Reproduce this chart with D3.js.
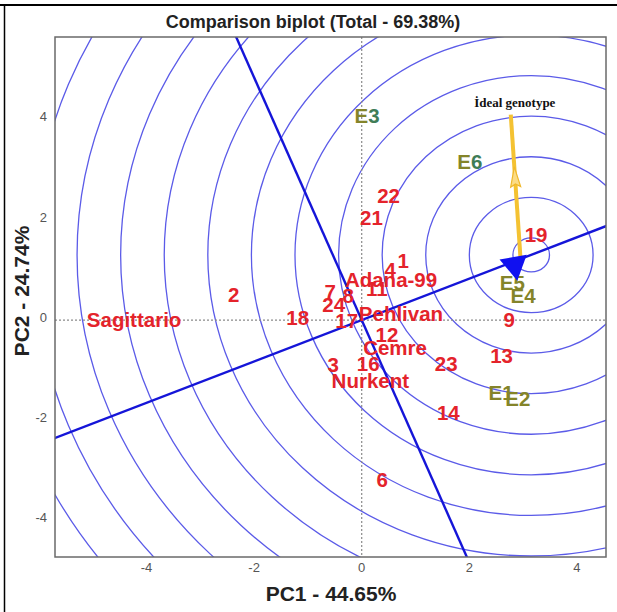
<!DOCTYPE html>
<html><head><meta charset="utf-8">
<script src="https://cdn.jsdelivr.net/npm/d3@7"></script>
<style>
html,body{margin:0;padding:0;background:#fff;}
svg{display:block;}
</style></head>
<body><svg id="c" width="617" height="612"></svg>
<script>
// ---- data ----
const genotypes = ["Sagittario","2","18","7","8","24","17","Pehlivan","Adana-99","11","4","1","12","Cemre","3","16","23","Nurkent","13","14","6","9","19","22","21"];
const genoPC1 =   [-4.23,-2.38,-1.19,-0.585,-0.25,-0.52,-0.28,0.73,0.545,0.28,0.53,0.77,0.47,0.62,-0.53,0.12,1.57,0.16,2.60,1.61,0.38,2.74,3.24,0.50,0.18];
const genoPC2 =   [0.00,0.50,0.04,0.56,0.48,0.31,-0.02,0.13,0.80,0.63,1.01,1.18,-0.29,-0.56,-0.89,-0.87,-0.87,-1.20,-0.71,-1.84,-3.19,0.01,1.70,2.48,2.05];
const envs =   ["E1","E2","E3","E4","E5","E6"];
const envPC1 = [2.59,2.90,0.10,3.00,2.80,2.01];
const envPC2 = [-1.45,-1.57,4.08,0.49,0.75,3.16];
const greenDigitEnvs = ["E3","E6"];
const xTicks = [-4,-2,0,2,4];
const yTicks = [-4,-2,0,2,4];
const xDomain = [-5.70, 4.54];
const yDomain = [-4.73, 5.65];
const idealCenter = [3.15, 1.30];
const circleRadii = [0.34,1.15,1.96,2.77,3.58,4.39,5.20,6.01,6.82,7.63,8.44,9.25,10.06,10.87];
const aecSlope = 0.413;          // average environment coordination axis through origin
const aecMarker = [2.84, 1.10];
const idealArrowFrom = [2.95, 1.25];
const idealArrowTo = [2.77, 4.10];
const titleText = "Comparison biplot (Total - 69.38%)";
const xLabel = "PC1 - 44.65%";
const yLabel = "PC2 - 24.74%";
const idealLabel = "İdeal genotype";

// ---- layout ----
const svg = d3.select("#c");
const L = 55, R = 606, T = 37, B = 557;
const x = d3.scaleLinear().domain(xDomain).range([L, R]);
const y = d3.scaleLinear().domain(yDomain).range([B, T]);
const sans = "'Liberation Sans', Arial, sans-serif";

// outer page borders
svg.append("line").attr("x1",0).attr("x2",617).attr("y1",5).attr("y2",5).attr("stroke","#000").attr("stroke-width",2);
svg.append("line").attr("x1",4.5).attr("x2",4.5).attr("y1",5).attr("y2",612).attr("stroke","#000").attr("stroke-width",1.5);

svg.append("defs").append("clipPath").attr("id","clip")
  .append("rect").attr("x",L).attr("y",T).attr("width",R-L).attr("height",B-T);
const g = svg.append("g").attr("clip-path","url(#clip)");

// concentric circles (data-space circles)
const rxUnit = x(1)-x(0), ryUnit = y(0)-y(1);
g.selectAll("ellipse.ring").data(circleRadii).join("ellipse")
  .attr("class","ring")
  .attr("cx", x(idealCenter[0])).attr("cy", y(idealCenter[1]))
  .attr("rx", d => d*rxUnit).attr("ry", d => d*ryUnit)
  .attr("fill","none").attr("stroke","#5b5be8").attr("stroke-width",1.3);

// zero dotted lines
g.append("line").attr("x1",x(0)).attr("x2",x(0)).attr("y1",T).attr("y2",B)
  .attr("stroke","#8a8a8a").attr("stroke-width",1.2).attr("stroke-dasharray","2,2");
g.append("line").attr("x1",L).attr("x2",R).attr("y1",y(0)).attr("y2",y(0))
  .attr("stroke","#8a8a8a").attr("stroke-width",1.2).attr("stroke-dasharray","2,2");

// AEC abscissa and ordinate
const xa = xDomain[0]-1, xb = xDomain[1]+1;
g.append("line").attr("x1",x(xa)).attr("y1",y(aecSlope*xa)).attr("x2",x(xb)).attr("y2",y(aecSlope*xb))
  .attr("stroke","#1515d8").attr("stroke-width",2.4);
const ps = -1/aecSlope;
const ya = yDomain[0]-1, yb = yDomain[1]+1;
g.append("line").attr("x1",x(ya/ps)).attr("y1",y(ya)).attr("x2",x(yb/ps)).attr("y2",y(yb))
  .attr("stroke","#1515d8").attr("stroke-width",2.4);

// genotype labels
g.selectAll("text.geno").data(genotypes).join("text")
  .attr("class","geno")
  .attr("x",(d,i)=>x(genoPC1[i])).attr("y",(d,i)=>y(genoPC2[i]))
  .attr("dy","0.36em").attr("text-anchor","middle")
  .attr("font-family",sans).attr("font-weight","bold")
  .attr("font-size",20.5).attr("fill","#e4232b")
  .text(d=>d);

// environment labels
const et = g.selectAll("text.env").data(envs).join("text")
  .attr("class","env")
  .attr("x",(d,i)=>x(envPC1[i])).attr("y",(d,i)=>y(envPC2[i]))
  .attr("dy","0.36em").attr("text-anchor","middle")
  .attr("font-family",sans).attr("font-weight","bold")
  .attr("font-size",20.5);
et.append("tspan").attr("fill","#84842a").text(d=>d[0]);
et.append("tspan").attr("fill",d=>greenDigitEnvs.includes(d)?"#3f7d57":"#84842a").text(d=>d.slice(1));

// ideal genotype arrow
const ax1 = x(idealArrowFrom[0]), ay1 = y(idealArrowFrom[1]);
const ax2 = x(idealArrowTo[0]), ay2 = y(idealArrowTo[1]);
g.append("line").attr("x1",ax1).attr("y1",ay1).attr("x2",ax2).attr("y2",ay2)
  .attr("stroke","#f4c232").attr("stroke-width",4);
{
  const mx = ax1 + (ax2-ax1)*0.55, my = ay1 + (ay2-ay1)*0.55;
  const ang = Math.atan2(ay2-ay1, ax2-ax1)*180/Math.PI + 90;
  g.append("path").attr("d","M0,-12 L5,8 L0,5 L-5,8 Z")
    .attr("transform",`translate(${mx},${my}) rotate(${ang})`)
    .attr("fill","#fbdc86").attr("stroke","#f0b82a").attr("stroke-width",1.2);
}

// AEC arrow head
g.append("path")
  .attr("d", d3.symbol().type(d3.symbolTriangle).size(330)())
  .attr("transform",`translate(${x(aecMarker[0])},${y(aecMarker[1])}) rotate(170)`)
  .attr("fill","#1010f0");

// ideal genotype label
svg.append("text").attr("x",x(idealArrowTo[0])+4).attr("y",y(idealArrowTo[1])-8)
  .attr("text-anchor","middle")
  .attr("font-family","'Liberation Serif', 'Times New Roman', serif").attr("font-weight","bold")
  .attr("font-size",13).attr("fill","#111").text(idealLabel);

// frame
svg.append("rect").attr("x",L).attr("y",T).attr("width",R-L).attr("height",B-T)
  .attr("fill","none").attr("stroke","#6a6a6a").attr("stroke-width",1.5);

// ticks
svg.selectAll("text.xt").data(xTicks).join("text").attr("class","xt")
  .attr("x",d=>x(d)).attr("y",B+10).attr("dy","0.36em").attr("text-anchor","middle")
  .attr("font-family",sans).attr("font-size",13).attr("fill","#555")
  .text(d=>d);
svg.selectAll("text.yt").data(yTicks).join("text").attr("class","yt")
  .attr("x",L-8).attr("y",d=>y(d)-3).attr("dy","0.36em").attr("text-anchor","end")
  .attr("font-family",sans).attr("font-size",13).attr("fill","#555")
  .text(d=>d);

// titles
svg.append("text").attr("x",313).attr("y",28).attr("text-anchor","middle")
  .attr("font-family",sans).attr("font-weight","bold")
  .attr("font-size",18).attr("fill","#222").text(titleText);
svg.append("text").attr("x",331).attr("y",601).attr("text-anchor","middle")
  .attr("font-family",sans).attr("font-weight","bold")
  .attr("font-size",21).attr("fill","#222").text(xLabel);
svg.append("text").attr("transform","translate(29,291) rotate(-90)").attr("text-anchor","middle")
  .attr("font-family",sans).attr("font-weight","bold")
  .attr("font-size",21).attr("fill","#222").text(yLabel);
</script></body></html>
